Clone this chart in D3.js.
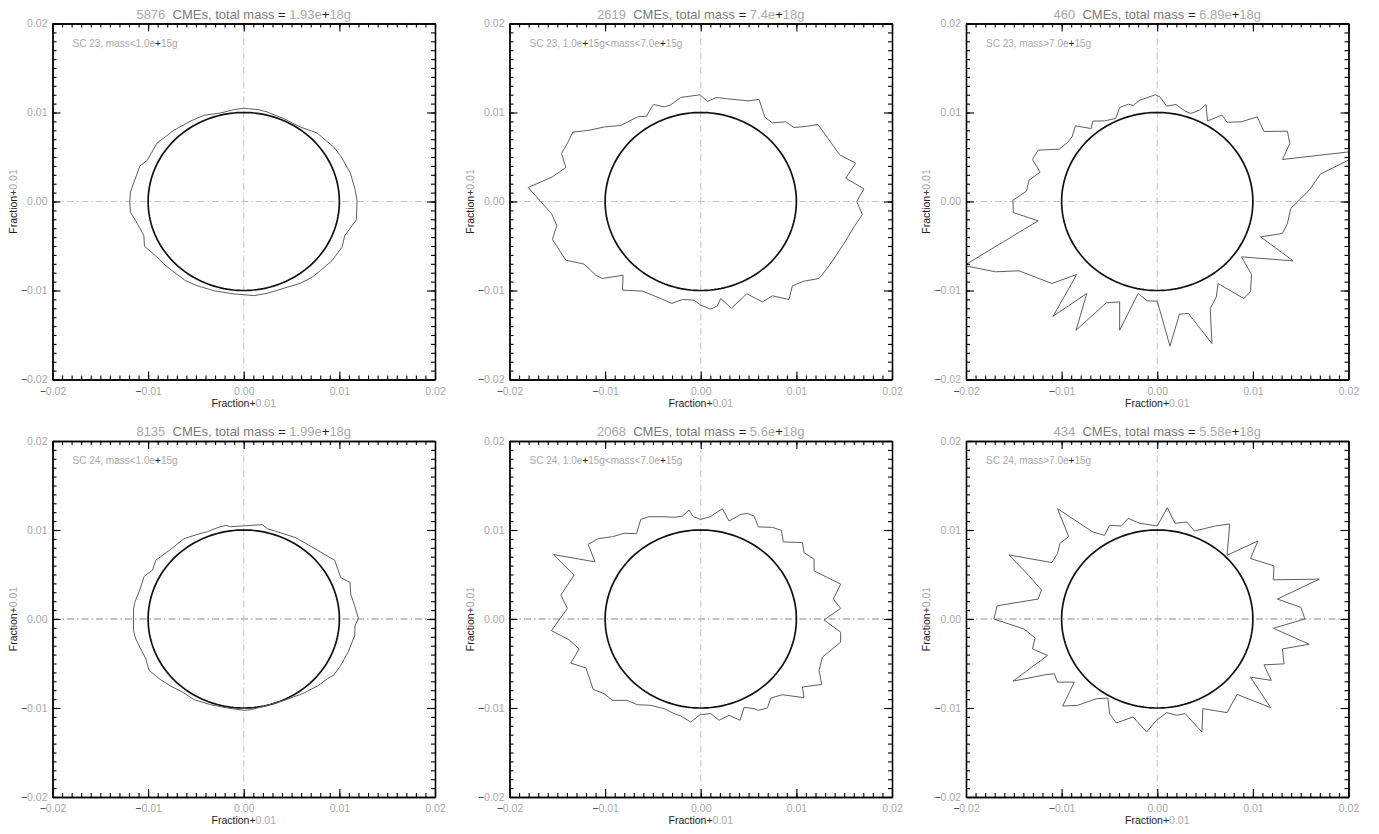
<!DOCTYPE html>
<html><head><meta charset="utf-8">
<script src="https://cdn.jsdelivr.net/npm/d3@7"></script>
<style>body{margin:0;background:#fff}svg{display:block}text{white-space:pre}</style>
</head><body>
<svg id="chart" width="1379" height="834"></svg>
<script>
// ---------- data ----------
const cmeCounts = [5876, 2619, 460, 8135, 2068, 434];
const totalMasses = ["1.93e+18", "7.4e+18", "6.89e+18", "1.99e+18", "5.6e+18", "5.58e+18"];
const subtitles = [
  "SC 23, mass<1.0e+15g", "SC 23, 1.0e+15g<mass<7.0e+15g", "SC 23, mass>7.0e+15g",
  "SC 24, mass<1.0e+15g", "SC 24, 1.0e+15g<mass<7.0e+15g", "SC 24, mass>7.0e+15g"
];
const axisDomain = [-0.02, 0.02];
const majorTicks = [-0.02, -0.01, 0, 0.01, 0.02];
const minorTicks = d3.range(-20, 21).map(i => i / 1000);
const referenceRadius = 0.01;
const axisTitle = "Fraction+0.01";

// outline vertices (Fraction+0.01 projected on x and y)
const sc23Low = [[-0.01192,0],[-0.01185,0.00105],[-0.01087,0.00398],[-0.01010,0.00462],[-0.00906,0.00657],[-0.00732,0.00799],[-0.00557,0.00904],[-0.00418,0.00968],[-0.00244,0.00994],[-0.00105,0.01032],[0,0.01047],[0.00157,0.01032],[0.00244,0.01006],[0.00418,0.00931],[0.00592,0.00837],[0.00767,0.00769],[0.00941,0.00612],[0.01010,0.00518],[0.01115,0.00319],[0.01167,0.00124],[0.01185,0],[0.01178,-0.00206],[0.01056,-0.00383],[0.01028,-0.00514],[0.00923,-0.00664],[0.00801,-0.00777],[0.00714,-0.00852],[0.00592,-0.00919],[0.00453,-0.00964],[0.00244,-0.01032],[0.00105,-0.01058],[0,-0.01047],[-0.00105,-0.01039],[-0.00314,-0.01002],[-0.00488,-0.00946],[-0.00610,-0.00889],[-0.00749,-0.00777],[-0.00836,-0.00702],[-0.00906,-0.00627],[-0.01038,-0.00503],[-0.01045,-0.00383],[-0.01132,-0.00214],[-0.01185,-0.00120]];
const sc23Mid = [[-0.01805,0.00157],[-0.01551,0.00277],[-0.01411,0.00382],[-0.01456,0.00539],[-0.01387,0.00670],[-0.01338,0.00779],[-0.01167,0.00801],[-0.01003,0.00839],[-0.00836,0.00854],[-0.00662,0.00951],[-0.00568,0.00959],[-0.00495,0.01090],[-0.00383,0.01064],[-0.00314,0.01086],[-0.00209,0.01169],[-0.00007,0.01199],[0.00070,0.01124],[0.00164,0.01169],[0.00279,0.01154],[0.00495,0.01131],[0.00610,0.01146],[0.00672,0.00944],[0.00749,0.00884],[0.00889,0.00895],[0.00976,0.00831],[0.01115,0.00846],[0.01226,0.00865],[0.01324,0.00719],[0.01453,0.00524],[0.01620,0.00431],[0.01516,0.00262],[0.01707,0.00142],[0.01631,0],[0.01690,-0.00146],[0.01603,-0.00285],[0.01498,-0.00472],[0.01429,-0.00584],[0.01334,-0.00734],[0.01237,-0.00865],[0.01080,-0.00895],[0.00958,-0.00948],[0.00923,-0.01101],[0.00749,-0.01060],[0.00645,-0.01127],[0.00481,-0.01037],[0.00321,-0.01199],[0.00209,-0.01090],[0.00174,-0.01172],[0.00105,-0.01210],[0,-0.01165],[-0.00070,-0.01109],[-0.00192,-0.01101],[-0.00303,-0.01146],[-0.00418,-0.01090],[-0.00610,-0.01007],[-0.00819,-0.00996],[-0.00812,-0.00828],[-0.01028,-0.00865],[-0.01098,-0.00828],[-0.01220,-0.00704],[-0.01411,-0.00659],[-0.01551,-0.00427],[-0.01505,-0.00270],[-0.01561,-0.00135]];
const sc23High = [[0.02218,0.00584],[0.01309,0.00472],[0.01386,0.00652],[0.01361,0.00790],[0.01116,0.00787],[0.01046,0.00951],[0.00877,0.00895],[0.00730,0.00891],[0.00677,0.00970],[0.00526,0.00906],[0.00509,0.01090],[0.00442,0.01026],[0.00351,0.00989],[0.00291,0.01015],[0.00196,0.01090],[0.00098,0.01071],[0.00028,0.01176],[-0.00021,0.01199],[-0.00098,0.01169],[-0.00182,0.01139],[-0.00253,0.01079],[-0.00302,0.01094],[-0.00393,0.01056],[-0.00435,0.00933],[-0.00551,0.00906],[-0.00674,0.00903],[-0.00691,0.00820],[-0.00856,0.00850],[-0.00891,0.00727],[-0.00937,0.00663],[-0.01025,0.00588],[-0.01246,0.00577],[-0.01305,0.00472],[-0.01225,0.00330],[-0.01340,0.00240],[-0.01368,0.00116],[-0.01509,0.00015],[-0.01505,-0.00124],[-0.01246,-0.00217],[-0.02020,-0.00720],[-0.01691,-0.00790],[-0.01446,-0.00779],[-0.01102,-0.00921],[-0.00842,-0.00820],[-0.01088,-0.01288],[-0.00737,-0.01034],[-0.00849,-0.01446],[-0.00533,-0.01139],[-0.00393,-0.01127],[-0.00393,-0.01446],[-0.00200,-0.01034],[-0.00105,-0.01116],[0,-0.01120],[0.00133,-0.01625],[0.00232,-0.01266],[0.00326,-0.01258],[0.00572,-0.01596],[0.00554,-0.01202],[0.00618,-0.01071],[0.00635,-0.00921],[0.00905,-0.01090],[0.00975,-0.01015],[0.00986,-0.00820],[0.00881,-0.00622],[0.01421,-0.00667],[0.01081,-0.00397],[0.01309,-0.00360],[0.01361,-0.00247],[0.01396,-0.00079],[0.01484,0.00015],[0.01589,0.00127],[0.01705,0.00307]];
const sc24Low = [[0.01199,0.00007],[0.01160,0.00149],[0.01118,0.00280],[0.01111,0.00410],[0.01014,0.00466],[0.00951,0.00660],[0.00544,0.00914],[0.00247,0.01015],[0.00195,0.01060],[-0.00136,0.01037],[-0.00188,0.01052],[-0.00275,0.01026],[-0.00380,0.00981],[-0.00484,0.00951],[-0.00624,0.00903],[-0.00763,0.00784],[-0.00920,0.00660],[-0.00955,0.00549],[-0.01042,0.00478],[-0.01084,0.00336],[-0.01139,0.00187],[-0.01153,0.00112],[-0.01153,-0.00131],[-0.01129,-0.00224],[-0.01077,-0.00336],[-0.01024,-0.00448],[-0.00990,-0.00578],[-0.00868,-0.00683],[-0.00763,-0.00754],[-0.00641,-0.00821],[-0.00519,-0.00907],[-0.00345,-0.00963],[-0.00171,-0.01000],[0.00003,-0.01026],[0.00073,-0.01019],[0.00247,-0.00970],[0.00422,-0.00914],[0.00613,-0.00840],[0.00770,-0.00754],[0.00875,-0.00672],[0.00944,-0.00627],[0.01014,-0.00522],[0.01091,-0.00373],[0.01160,-0.00187],[0.01164,-0.00075]];
const sc24Mid = [[-0.01561,-0.00131],[-0.01394,0.00119],[-0.01463,0.00269],[-0.01324,0.00493],[-0.01540,0.00724],[-0.01105,0.00642],[-0.01178,0.00840],[-0.01070,0.00903],[-0.00923,0.00925],[-0.00801,0.00963],[-0.00672,0.00959],[-0.00627,0.01119],[-0.00540,0.01149],[-0.00383,0.01149],[-0.00279,0.01142],[-0.00192,0.01157],[-0.00122,0.01224],[-0.00077,0.01149],[0,0.01119],[0.00098,0.01149],[0.00226,0.01239],[0.00296,0.01101],[0.00418,0.01175],[0.00488,0.01187],[0.00557,0.01157],[0.00603,0.01034],[0.00749,0.01030],[0.00843,0.00996],[0.00864,0.00866],[0.01063,0.00858],[0.01080,0.00746],[0.01185,0.00672],[0.01185,0.00541],[0.01324,0.00466],[0.01463,0.00392],[0.01387,0.00224],[0.01463,0.00119],[0.01289,-0.00011],[0.01463,-0.00149],[0.01463,-0.00261],[0.01272,-0.00429],[0.01237,-0.00578],[0.01265,-0.00735],[0.01063,-0.00765],[0.01080,-0.00884],[0.00854,-0.00851],[0.00732,-0.00888],[0.00697,-0.01000],[0.00603,-0.01026],[0.00557,-0.01007],[0.00453,-0.00993],[0.00411,-0.01138],[0.00296,-0.01082],[0.00192,-0.01138],[0.00105,-0.01063],[-0.00007,-0.01075],[-0.00105,-0.01157],[-0.00209,-0.01090],[-0.00279,-0.01063],[-0.00383,-0.01007],[-0.00523,-0.00970],[-0.00662,-0.00963],[-0.00767,-0.00914],[-0.00923,-0.00914],[-0.01010,-0.00840],[-0.01125,-0.00791],[-0.01167,-0.00653],[-0.01202,-0.00549],[-0.01359,-0.00496],[-0.01272,-0.00336],[-0.01376,-0.00235]];
const sc24High = [[-0.01042,0.01239],[-0.00674,0.00978],[-0.00551,0.00940],[-0.00498,0.01052],[-0.00375,0.01045],[-0.00305,0.01131],[-0.00182,0.01075],[0,0.01045],[0.00105,0.01250],[0.00186,0.01075],[0.00309,0.01090],[0.00389,0.00989],[0.00607,0.01045],[0.00758,0.01067],[0.00730,0.00716],[0.01053,0.00877],[0.00975,0.00679],[0.01221,0.00597],[0.01214,0.00440],[0.01695,0.00448],[0.01256,0.00224],[0.01502,0.00131],[0.01544,0],[0.01214,-0.00104],[0.01589,-0.00284],[0.01309,-0.00336],[0.01326,-0.00504],[0.01116,-0.00515],[0.01193,-0.00690],[0.00975,-0.00653],[0.01186,-0.00996],[0.00835,-0.00847],[0.00730,-0.01052],[0.00477,-0.01007],[0.00467,-0.01269],[0.00291,-0.01063],[0.00204,-0.01082],[0.00098,-0.01052],[-0.00007,-0.01138],[-0.00112,-0.01269],[-0.00253,-0.01101],[-0.00428,-0.01168],[-0.00498,-0.01063],[-0.00516,-0.00888],[-0.00639,-0.00896],[-0.00832,-0.00970],[-0.00989,-0.00978],[-0.00867,-0.00709],[-0.01042,-0.00709],[-0.01077,-0.00616],[-0.01154,-0.00623],[-0.01509,-0.00698],[-0.01147,-0.00410],[-0.01305,-0.00336],[-0.01277,-0.00213],[-0.01393,-0.00112],[-0.01709,0],[-0.01674,0.00149],[-0.01246,0.00224],[-0.01211,0.00325],[-0.01340,0.00485],[-0.01551,0.00720],[-0.01102,0.00634],[-0.01042,0.00739],[-0.01018,0.00851],[-0.00926,0.00925]];
const outlines = [sc23Low, sc23Mid, sc23High, sc24Low, sc24Mid, sc24High];

// ---------- layout ----------
const colLeft = [52.5, 509.5, 966];
const rowTop = [23.5, 441];
const pw = 382.5, ph = 356;
const hLineWidth = [1, 1.8];
const FONT = "'Liberation Sans', Arial, sans-serif";
const LIGHT = "#a9a9a9", MID = "#7a7a7a", DARK = "#222";

function colorize(textSel, letterColor) {
  textSel.each(function () {
    const t = d3.select(this);
    const s = t.text();
    t.text(null);
    const runs = [];
    const tokens = s.split(/(\s+)/);
    tokens.forEach(tok => {
      const numeric = /^[0-9]/.test(tok);
      for (const ch of tok) {
        let c;
        if (/\s/.test(ch)) c = runs.length ? runs[runs.length - 1].c : letterColor;
        else if (ch === '+' || ch === '-' || ch === '\u2212' || ch === '=') c = DARK;
        else if (/[0-9.]/.test(ch) || numeric) c = LIGHT;
        else c = letterColor;
        if (runs.length && runs[runs.length - 1].c === c) runs[runs.length - 1].s += ch;
        else runs.push({ s: ch, c });
      }
    });
    runs.forEach(r => t.append('tspan').attr('fill', r.c).text(r.s));
  });
}

const svg = d3.select('#chart');
svg.append('rect').attr('width', 1379).attr('height', 834).attr('fill', '#fff');

outlines.forEach((pts, i) => {
  const col = i % 3, row = Math.floor(i / 3);
  const g = svg.append('g').attr('transform', `translate(${colLeft[col]},${rowTop[row]})`);
  const x = d3.scaleLinear().domain(axisDomain).range([0, pw]);
  const y = d3.scaleLinear().domain(axisDomain).range([ph, 0]);

  const clipId = 'clip' + i;
  g.append('clipPath').attr('id', clipId).append('rect').attr('width', pw).attr('height', ph);

  // dash-dot crosshair
  g.append('line').attr('x1', x(0)).attr('x2', x(0)).attr('y1', 0).attr('y2', ph)
    .attr('stroke', '#c4c4c4').attr('stroke-width', 1).attr('stroke-dasharray', '7,3,1.5,3');
  g.append('line').attr('x1', 0).attr('x2', pw).attr('y1', y(0)).attr('y2', y(0))
    .attr('stroke', '#c4c4c4').attr('stroke-width', hLineWidth[row]).attr('stroke-dasharray', '7,3,1.5,3');

  // reference circle
  const circlePts = d3.range(0, 361, 2).map(a => [referenceRadius * Math.cos(a * Math.PI / 180), referenceRadius * Math.sin(a * Math.PI / 180)]);
  const line = d3.line().x(d => x(d[0])).y(d => y(d[1]));
  g.append('path').attr('d', line(circlePts)).attr('fill', 'none').attr('stroke', '#111').attr('stroke-width', 1.7);

  // outline
  g.append('path').attr('clip-path', `url(#${clipId})`)
    .attr('d', line.curve(d3.curveLinearClosed)(pts))
    .attr('fill', 'none').attr('stroke', '#5e5e5e').attr('stroke-width', 1);

  // axes
  const fmt = d3.format('.2f');
  const styleAxis = a => {
    a.select('.domain').attr('stroke', '#000').attr('stroke-width', 1.3);
    a.selectAll('.tick line').attr('stroke', '#000').attr('stroke-width', 1.1);
    a.selectAll('text').attr('font-family', FONT).attr('font-size', 10.5).attr('fill', LIGHT);
  };
  const mk = (axisFn, scale, tr, size, vals, labels, pad) => {
    const ax = axisFn(scale).tickValues(vals).tickSizeInner(-size).tickSizeOuter(0)
      .tickPadding(pad || 3).tickFormat(labels ? fmt : () => '');
    const a = g.append('g').attr('transform', tr).call(ax);
    styleAxis(a);
    if (labels) colorize(a.selectAll('.tick text'), DARK);
    return a;
  };
  mk(d3.axisBottom, x, `translate(0,${ph})`, 4, minorTicks, false);
  mk(d3.axisBottom, x, `translate(0,${ph})`, 8, majorTicks, true, 8);
  mk(d3.axisTop, x, `translate(0,0)`, 4, minorTicks, false);
  mk(d3.axisTop, x, `translate(0,0)`, 8, majorTicks, false);
  mk(d3.axisLeft, y, `translate(0,0)`, 4, minorTicks, false);
  mk(d3.axisLeft, y, `translate(0,0)`, 8, majorTicks, true, 5);
  mk(d3.axisRight, y, `translate(${pw},0)`, 4, minorTicks, false);
  mk(d3.axisRight, y, `translate(${pw},0)`, 8, majorTicks, false);

  // axis titles
  const xt = g.append('text').attr('x', pw / 2).attr('y', ph + 27).attr('text-anchor', 'middle')
    .attr('font-family', FONT).attr('font-size', 10.5).text(axisTitle);
  colorize(xt, DARK);
  const yt = g.append('text').attr('transform', `translate(-36,${ph / 2}) rotate(-90)`)
    .attr('text-anchor', 'middle').attr('font-family', FONT).attr('font-size', 10.5).text(axisTitle);
  colorize(yt, DARK);

  // title
  const tt = g.append('text').attr('x', pw / 2).attr('y', -5).attr('text-anchor', 'middle')
    .attr('font-family', FONT).attr('font-size', 13)
    .text(`${cmeCounts[i]}  CMEs, total mass = ${totalMasses[i]}g`);
  colorize(tt, MID);

  // subtitle
  const st = g.append('text').attr('x', 20).attr('y', 23).attr('font-family', FONT).attr('font-size', 10)
    .text(subtitles[i]);
  colorize(st, LIGHT);
});
</script>
</body></html>
